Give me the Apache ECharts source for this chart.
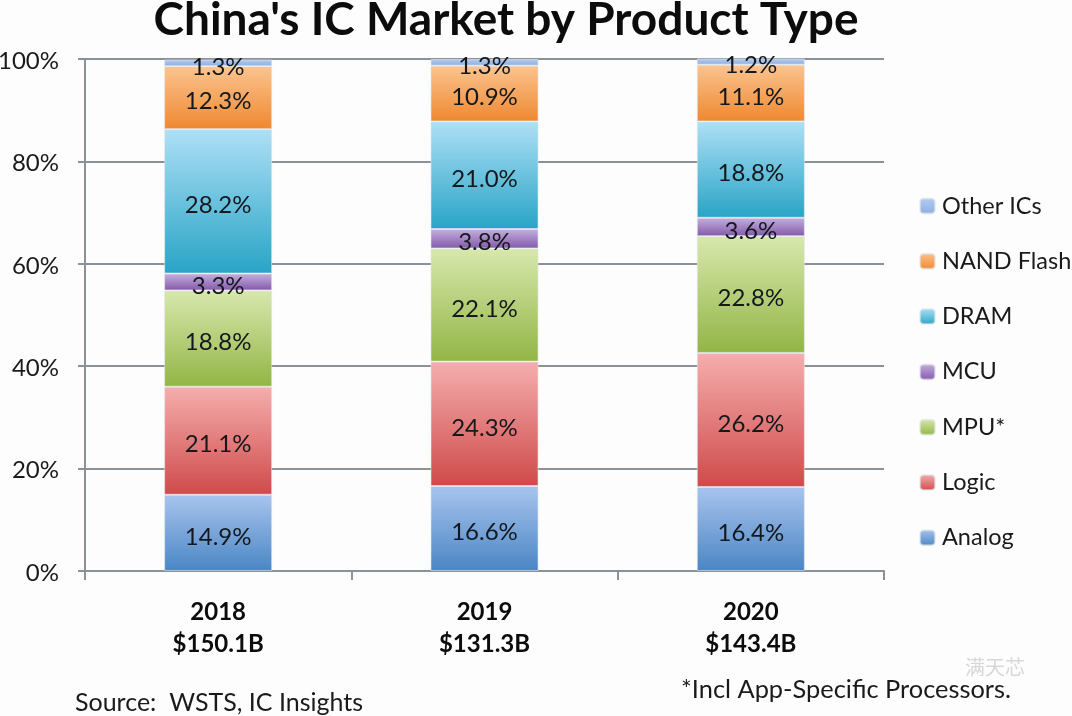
<!DOCTYPE html>
<html>
<head>
<meta charset="utf-8">
<title>China's IC Market by Product Type</title>
<script src="https://cdn.jsdelivr.net/npm/echarts@6/dist/echarts.min.js"></script>
<style>
html, body { margin: 0; padding: 0; background: #fff; }
#chart { width: 1072px; height: 716px; }
</style>
</head>
<body>
<div id="chart"></div>
<script>
var years = ['2018\n$150.1B', '2019\n$131.3B', '2020\n$143.4B'];
var yTicks = [0, 20, 40, 60, 80, 100];

var analog = [14.9, 16.6, 16.4];
var logic = [21.1, 24.3, 26.2];
var mpu = [18.8, 22.1, 22.8];
var mcu = [3.3, 3.8, 3.6];
var dram = [28.2, 21.0, 18.8];
var nand = [12.3, 10.9, 11.1];
var other = [1.3, 1.3, 1.2];

var seriesNames = ['Analog', 'Logic', 'MPU*', 'MCU', 'DRAM', 'NAND Flash', 'Other ICs'];
var seriesValues = [analog, logic, mpu, mcu, dram, nand, other];
var topColors = ['#a8c4ee', '#f6aeae', '#d8e8ad', '#c4b0de', '#aee0f6', '#fbc48f', '#b4ccf2'];
var bottomColors = ['#4a86c4', '#cf4a4a', '#92b545', '#8459ab', '#28a4c6', '#ef8830', '#8eaede'];

var fontName = 'Lato, "Open Sans", sans-serif';
var gridColor = '#8b9198';

function makeSeries() {
    var list = [];
    for (var i = 0; i < seriesNames.length; i++) {
        list.push({
            name: seriesNames[i],
            type: 'bar',
            stack: 'total',
            barWidth: 108,
            data: seriesValues[i],
            itemStyle: {
                color: new echarts.graphic.LinearGradient(0, 0, 0, 1, [
                    { offset: 0, color: topColors[i] },
                    { offset: 1, color: bottomColors[i] }
                ]),
                borderColor: 'rgba(225,230,235,0.6)',
                borderWidth: 1
            },
            label: {
                show: true,
                position: 'inside',
                offset: [0, 4],
                color: '#14181c',
                fontFamily: fontName,
                fontSize: 24,
                formatter: function (p) {
                    return p.value.toFixed(1) + '%';
                }
            }
        });
    }
    return list;
}

var myChart = echarts.init(document.getElementById('chart'));

var option = {
    animation: false,
    backgroundColor: '#fdfdfd',
    title: {
        text: "China's IC Market by Product Type",
        left: 501,
        top: -8,
        textAlign: 'center',
        textStyle: {
            color: '#0c0c0c',
            fontFamily: fontName,
            fontSize: 46,
            fontWeight: 'bold'
        }
    },
    grid: { left: 85, right: 188, top: 59, bottom: 145, outerBoundsMode: 'none' },
    legend: {
        orient: 'vertical',
        left: 914,
        top: 189,
        itemWidth: 15,
        itemHeight: 15,
        itemGap: 31.3,
        data: seriesNames.slice().reverse(),
        textStyle: {
            color: '#1a1a1a',
            fontFamily: fontName,
            fontSize: 23.5,
            padding: [4, 0, 0, 2]
        }
    },
    xAxis: {
        type: 'category',
        data: years,
        axisLine: { lineStyle: { color: gridColor, width: 2 } },
        axisTick: { show: true, length: 9, alignWithLabel: false, lineStyle: { color: gridColor, width: 2 } },
        axisLabel: {
            margin: 25,
            color: '#0c0c0c',
            fontFamily: fontName,
            fontSize: 24,
            fontWeight: 'bold',
            lineHeight: 32
        }
    },
    yAxis: {
        type: 'value',
        min: 0,
        max: 100,
        interval: yTicks[1] - yTicks[0],
        axisLine: { show: true, lineStyle: { color: gridColor, width: 2 } },
        axisTick: { show: true, length: 7, lineStyle: { color: gridColor, width: 2 } },
        splitLine: { show: true, lineStyle: { color: gridColor, width: 2 } },
        axisLabel: {
            margin: 26,
            verticalAlign: 'top',
            lineHeight: 4,
            color: '#1a1a1a',
            fontFamily: fontName,
            fontSize: 24,
            formatter: '{value}%'
        }
    },
    graphic: [
        {
            type: 'text',
            left: 75,
            top: 690,
            style: { text: 'Source:  WSTS, IC Insights', fill: '#1a1a1a', font: '25px ' + fontName }
        },
        {
            type: 'text',
            left: 681,
            top: 677,
            style: { text: '*Incl App-Specific Processors.', fill: '#1a1a1a', font: '25.4px ' + fontName }
        },
        {
            type: 'text',
            left: 965,
            top: 657,
            style: { text: '满天芯', fill: '#d8d8d8', font: '20px "Noto Sans CJK SC"' }
        }
    ],
    series: makeSeries()
};

myChart.setOption(option);
</script>
</body>
</html>
